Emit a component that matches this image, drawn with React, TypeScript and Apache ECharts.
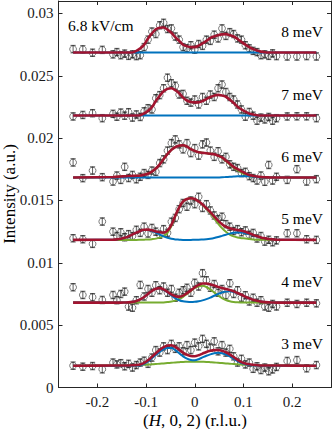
import React, { useEffect, useRef } from "react";
import * as echarts from "echarts";

// ---- data ----
const POINT_H = [-0.25, -0.23, -0.21, -0.19, -0.168, -0.16, -0.152, -0.144, -0.136, -0.128, -0.12, -0.112, -0.104, -0.096, -0.088, -0.08, -0.072, -0.064, -0.056, -0.048, -0.04, -0.032, -0.024, -0.016, -0.008, 0, 0.008, 0.016, 0.024, 0.032, 0.04, 0.048, 0.056, 0.064, 0.072, 0.08, 0.088, 0.096, 0.104, 0.112, 0.12, 0.128, 0.136, 0.144, 0.152, 0.16, 0.168, 0.19, 0.21, 0.23, 0.25];
const CURVE_H = [-0.25, -0.168, -0.16, -0.152, -0.144, -0.136, -0.128, -0.12, -0.112, -0.104, -0.096, -0.088, -0.08, -0.072, -0.064, -0.056, -0.048, -0.04, -0.032, -0.024, -0.016, -0.008, 0, 0.008, 0.016, 0.024, 0.032, 0.04, 0.048, 0.056, 0.064, 0.072, 0.08, 0.088, 0.096, 0.104, 0.112, 0.12, 0.128, 0.136, 0.144, 0.152, 0.16, 0.168, 0.25];

const LABELS = ["8 meV", "7 meV", "6 meV", "5 meV", "4 meV", "3 meV"];
const BASELINES = [0.02687, 0.02182, 0.01684, 0.01184, 0.00681, 0.00175];
const ERRORS = [0.0003, 0.0003, 0.0003, 0.0003, 0.0003, 0.0003];

const DATA_8 = [0.02714, 0.02712, 0.02685, 0.02708, 0.02672, 0.0269, 0.02665, 0.02678, 0.0266, 0.02672, 0.02658, 0.02665, 0.0273, 0.0279, 0.02855, 0.02835, 0.02905, 0.02925, 0.02875, 0.0288, 0.02815, 0.0279, 0.0273, 0.0272, 0.02745, 0.0271, 0.02755, 0.0274, 0.0279, 0.0278, 0.0283, 0.028, 0.0288, 0.0282, 0.0285, 0.02835, 0.028, 0.0279, 0.02745, 0.0272, 0.027, 0.0269, 0.02665, 0.02672, 0.0266, 0.0268, 0.02658, 0.02655, 0.02655, 0.02658, 0.02655];
const DATA_7 = [0.02174, 0.02186, 0.022, 0.0216, 0.02195, 0.02172, 0.02205, 0.0218, 0.02208, 0.02165, 0.0219, 0.0217, 0.02215, 0.0224, 0.0223, 0.0232, 0.02345, 0.024, 0.02485, 0.0244, 0.0242, 0.0235, 0.02355, 0.023, 0.02285, 0.0231, 0.0227, 0.0233, 0.023, 0.0235, 0.0233, 0.024, 0.0243, 0.0237, 0.0233, 0.0231, 0.0227, 0.0223, 0.02172, 0.0221, 0.0218, 0.0214, 0.02165, 0.0215, 0.0217, 0.0214, 0.0216, 0.02174, 0.02175, 0.02175, 0.0216];
const DATA_6 = [0.01805, 0.01679, 0.0174, 0.01687, 0.01652, 0.017, 0.01665, 0.0177, 0.0168, 0.01705, 0.0167, 0.0169, 0.0172, 0.01705, 0.0174, 0.0173, 0.018, 0.0183, 0.019, 0.0196, 0.0199, 0.0195, 0.0191, 0.0196, 0.0188, 0.0192, 0.0186, 0.0195, 0.01965, 0.019, 0.0185, 0.01895, 0.0183, 0.0185, 0.0179, 0.0177, 0.0176, 0.0172, 0.0173, 0.01695, 0.0168, 0.0166, 0.017, 0.0165, 0.01785, 0.0166, 0.0169, 0.01665, 0.01751, 0.01652, 0.01671];
const DATA_5 = [0.01197, 0.01189, 0.01152, 0.01331, 0.0125, 0.01215, 0.01245, 0.01205, 0.0123, 0.01215, 0.01265, 0.0124, 0.0129, 0.01235, 0.0128, 0.0125, 0.01225, 0.0127, 0.0124, 0.0133, 0.0136, 0.0143, 0.0148, 0.0145, 0.015, 0.0147, 0.0153, 0.0144, 0.0147, 0.0142, 0.0138, 0.0135, 0.0137, 0.0131, 0.0129, 0.01255, 0.0127, 0.01245, 0.0126, 0.01225, 0.0124, 0.01195, 0.01215, 0.0117, 0.01185, 0.01165, 0.0118, 0.01237, 0.01237, 0.01189, 0.01184];
const DATA_4 = [0.00804, 0.00742, 0.00724, 0.00702, 0.00742, 0.007, 0.0075, 0.00769, 0.00649, 0.0064, 0.007, 0.00823, 0.0073, 0.0079, 0.0076, 0.0082, 0.0078, 0.0081, 0.0076, 0.0079, 0.0072, 0.0076, 0.0078, 0.008, 0.0076, 0.0084, 0.0081, 0.00917, 0.0086, 0.008, 0.0083, 0.0076, 0.0079, 0.0074, 0.00836, 0.0075, 0.0078, 0.0072, 0.0074, 0.0069, 0.0072, 0.0068, 0.007, 0.0065, 0.0064, 0.0067, 0.0065, 0.0068, 0.0067, 0.0068, 0.00675];
const DATA_3 = [0.00175, 0.00167, 0.00172, 0.00146, 0.002, 0.00185, 0.00195, 0.0017, 0.0019, 0.0016, 0.0018, 0.002, 0.00215, 0.0019, 0.0024, 0.003, 0.0028, 0.0033, 0.003, 0.0035, 0.0031, 0.0033, 0.0029, 0.0034, 0.003, 0.0036, 0.0033, 0.0039, 0.0035, 0.0032, 0.0037, 0.0029, 0.0034, 0.0028, 0.0031, 0.0025, 0.002, 0.0023, 0.00185, 0.002, 0.0015, 0.0017, 0.0014, 0.0016, 0.0013, 0.00145, 0.00165, 0.00213, 0.0022, 0.00154, 0.0018];

const FIT_8 = [0.02687, 0.02687, 0.02687, 0.02687, 0.02687, 0.02687, 0.02687, 0.027, 0.0272, 0.0275, 0.028, 0.0284, 0.02873, 0.02886, 0.02888, 0.0287, 0.02845, 0.0281, 0.0278, 0.02749, 0.02737, 0.0273, 0.0273, 0.02742, 0.0276, 0.0278, 0.02803, 0.02816, 0.02826, 0.02832, 0.02834, 0.02826, 0.02815, 0.02795, 0.02772, 0.0275, 0.0273, 0.02714, 0.02703, 0.02694, 0.02689, 0.02687, 0.02687, 0.02687, 0.02687];
const FIT_7 = [0.02182, 0.02182, 0.02182, 0.02182, 0.02182, 0.02182, 0.02182, 0.02182, 0.02184, 0.02198, 0.0222, 0.02248, 0.02298, 0.0234, 0.02376, 0.02395, 0.024, 0.02385, 0.0236, 0.02325, 0.02302, 0.0229, 0.02287, 0.02287, 0.02298, 0.02313, 0.0233, 0.02341, 0.02347, 0.02342, 0.02332, 0.02308, 0.02282, 0.02252, 0.0223, 0.02212, 0.02198, 0.0219, 0.02184, 0.02182, 0.02182, 0.02182, 0.02182, 0.02182, 0.02182];
const FIT_6 = [0.01684, 0.01688, 0.0169, 0.01692, 0.01694, 0.01696, 0.01697, 0.01698, 0.017, 0.01707, 0.01715, 0.01732, 0.01756, 0.0179, 0.01832, 0.01873, 0.01906, 0.01928, 0.0194, 0.01943, 0.01932, 0.01912, 0.01898, 0.01887, 0.01882, 0.01879, 0.01875, 0.0187, 0.01859, 0.01845, 0.01821, 0.01795, 0.0177, 0.01751, 0.01734, 0.01717, 0.01704, 0.01697, 0.01692, 0.01688, 0.01686, 0.01685, 0.01684, 0.01684, 0.01684];
const FIT_5 = [0.01184, 0.01186, 0.01188, 0.01193, 0.01201, 0.01212, 0.01227, 0.01242, 0.01256, 0.01265, 0.01266, 0.01261, 0.01252, 0.01245, 0.01243, 0.01258, 0.01304, 0.01378, 0.01445, 0.01492, 0.01512, 0.01518, 0.01512, 0.01493, 0.01468, 0.01438, 0.01407, 0.01372, 0.01338, 0.0131, 0.0129, 0.01277, 0.01269, 0.01263, 0.01257, 0.01249, 0.01237, 0.01224, 0.01213, 0.01204, 0.01197, 0.01191, 0.01188, 0.01186, 0.01184];
const FIT_4 = [0.00681, 0.00681, 0.00681, 0.00681, 0.00682, 0.00683, 0.00687, 0.00694, 0.00707, 0.00726, 0.00751, 0.00775, 0.00792, 0.00797, 0.00787, 0.00767, 0.00746, 0.00732, 0.00728, 0.00737, 0.00757, 0.00779, 0.00804, 0.00823, 0.00834, 0.00834, 0.00827, 0.00818, 0.00807, 0.00798, 0.0079, 0.00782, 0.00771, 0.00758, 0.00744, 0.00728, 0.00715, 0.00703, 0.00695, 0.00689, 0.00685, 0.00683, 0.00682, 0.00681, 0.00681];
const FIT_3 = [0.00175, 0.00176, 0.00176, 0.00176, 0.00177, 0.00177, 0.00178, 0.0018, 0.00184, 0.00197, 0.00218, 0.00246, 0.00274, 0.00301, 0.00323, 0.00337, 0.00339, 0.00326, 0.00303, 0.0028, 0.00263, 0.00253, 0.00251, 0.00259, 0.00272, 0.00285, 0.00294, 0.003, 0.00301, 0.00295, 0.00283, 0.00266, 0.00244, 0.00222, 0.00204, 0.00193, 0.00186, 0.00182, 0.00179, 0.00177, 0.00177, 0.00176, 0.00176, 0.00176, 0.00175];

const BLUE_6 = [0.01684, 0.01684, 0.01684, 0.01684, 0.01684, 0.01684, 0.01684, 0.01684, 0.01684, 0.01684, 0.01684, 0.01684, 0.01684, 0.01684, 0.01684, 0.01684, 0.01684, 0.01684, 0.01684, 0.01684, 0.01684, 0.01684, 0.01684, 0.01684, 0.01684, 0.01684, 0.01684, 0.01684, 0.01685, 0.01686, 0.01688, 0.0169, 0.01692, 0.01694, 0.01695, 0.01695, 0.01694, 0.01691, 0.01688, 0.01686, 0.01685, 0.01684, 0.01684, 0.01684, 0.01684];
const BLUE_5 = [0.01184, 0.01186, 0.01188, 0.01193, 0.01201, 0.01212, 0.01227, 0.01242, 0.01255, 0.01263, 0.01263, 0.01255, 0.01242, 0.01227, 0.01212, 0.01201, 0.01193, 0.01188, 0.01186, 0.01184, 0.01184, 0.01184, 0.01185, 0.01185, 0.01187, 0.01189, 0.01193, 0.01199, 0.01207, 0.01216, 0.01225, 0.01234, 0.01241, 0.01244, 0.01243, 0.01238, 0.0123, 0.0122, 0.01211, 0.01202, 0.01196, 0.01191, 0.01188, 0.01186, 0.01184];
const BLUE_4 = [0.00681, 0.00681, 0.00681, 0.00681, 0.00682, 0.00683, 0.00687, 0.00694, 0.00707, 0.00726, 0.00751, 0.00775, 0.00792, 0.00796, 0.00785, 0.00763, 0.00738, 0.00716, 0.007, 0.00691, 0.00687, 0.00685, 0.00687, 0.00692, 0.00699, 0.00709, 0.00721, 0.00736, 0.0075, 0.00762, 0.00769, 0.00771, 0.00766, 0.00756, 0.00743, 0.00728, 0.00715, 0.00703, 0.00695, 0.00689, 0.00685, 0.00683, 0.00682, 0.00681, 0.00681];
const BLUE_3 = [0.00175, 0.00175, 0.00175, 0.00175, 0.00175, 0.00175, 0.00175, 0.00176, 0.00178, 0.0019, 0.00209, 0.00235, 0.00261, 0.00285, 0.00305, 0.00316, 0.00316, 0.003, 0.00275, 0.0025, 0.00232, 0.00221, 0.00219, 0.00227, 0.00241, 0.00255, 0.00266, 0.00274, 0.00278, 0.00274, 0.00265, 0.0025, 0.00231, 0.00211, 0.00195, 0.00186, 0.0018, 0.00178, 0.00176, 0.00175, 0.00175, 0.00175, 0.00175, 0.00175, 0.00175];

const GREEN_6 = [0.01684, 0.01688, 0.0169, 0.01692, 0.01694, 0.01696, 0.01697, 0.01698, 0.017, 0.01707, 0.01715, 0.01732, 0.01756, 0.0179, 0.01832, 0.01873, 0.01906, 0.01928, 0.0194, 0.01943, 0.01932, 0.01912, 0.01898, 0.01887, 0.01882, 0.01879, 0.01875, 0.0187, 0.01858, 0.01843, 0.01817, 0.01789, 0.01762, 0.01741, 0.01723, 0.01706, 0.01694, 0.0169, 0.01688, 0.01686, 0.01685, 0.01685, 0.01684, 0.01684, 0.01684];
const GREEN_5 = [0.01184, 0.01184, 0.01184, 0.01184, 0.01184, 0.01184, 0.01184, 0.01184, 0.01185, 0.01186, 0.01187, 0.0119, 0.01194, 0.01202, 0.01215, 0.01241, 0.01295, 0.01374, 0.01443, 0.01492, 0.01512, 0.01518, 0.01511, 0.01492, 0.01465, 0.01433, 0.01398, 0.01357, 0.01315, 0.01278, 0.01249, 0.01227, 0.01212, 0.01203, 0.01198, 0.01195, 0.01191, 0.01188, 0.01186, 0.01186, 0.01185, 0.01184, 0.01184, 0.01184, 0.01184];
const GREEN_4 = [0.00681, 0.00681, 0.00681, 0.00681, 0.00681, 0.00681, 0.00681, 0.00681, 0.00681, 0.00681, 0.00681, 0.00681, 0.00681, 0.00681, 0.00682, 0.00685, 0.00689, 0.00697, 0.00709, 0.00727, 0.00751, 0.00775, 0.00798, 0.00812, 0.00816, 0.00806, 0.00787, 0.00763, 0.00738, 0.00717, 0.00702, 0.00692, 0.00686, 0.00683, 0.00682, 0.00681, 0.00681, 0.00681, 0.00681, 0.00681, 0.00681, 0.00681, 0.00681, 0.00681, 0.00681];
const GREEN_3 = [0.00175, 0.00176, 0.00176, 0.00176, 0.00177, 0.00177, 0.00178, 0.00179, 0.00181, 0.00182, 0.00184, 0.00186, 0.00188, 0.00191, 0.00193, 0.00196, 0.00198, 0.00201, 0.00203, 0.00205, 0.00206, 0.00207, 0.00207, 0.00207, 0.00206, 0.00205, 0.00203, 0.00201, 0.00198, 0.00196, 0.00193, 0.00191, 0.00188, 0.00186, 0.00184, 0.00182, 0.00181, 0.00179, 0.00178, 0.00177, 0.00177, 0.00176, 0.00176, 0.00176, 0.00175];

const DATA = [DATA_8, DATA_7, DATA_6, DATA_5, DATA_4, DATA_3];
const FITS = [FIT_8, FIT_7, FIT_6, FIT_5, FIT_4, FIT_3];
const BLUES: (number[] | null)[] = [null, null, BLUE_6, BLUE_5, BLUE_4, BLUE_3];
const GREENS: (number[] | null)[] = [null, null, GREEN_6, GREEN_5, GREEN_4, GREEN_3];

const X_TICKS = [-0.2, -0.1, 0, 0.1, 0.2];
const Y_TICKS = [0, 0.005, 0.01, 0.015, 0.02, 0.025, 0.03];

// ---- styling ----
const FONT = "Liberation Serif";
const RED = "#A2142F";
const BLUE = "#0072BD";
const GREEN = "#77AC30";
const AXIS = "#262626";
const LABEL_Y = [31.7, 94.3, 156, 218.5, 281, 343.5];

function pairs(hs: number[], vs: number[]) {
  return hs.map((h, i) => [h, vs[i]]);
}

export default function App() {
  const ref = useRef<HTMLDivElement>(null);
  useEffect(() => {
    if (!ref.current) return;
    const chart = echarts.init(ref.current, null, { renderer: "svg" });
    const series: any[] = [];
    DATA.forEach((d, k) => {
      series.push({
        type: "custom",
        xAxisIndex: 0,
        yAxisIndex: 0,
        z: 1,
        silent: true,
        data: POINT_H.map((h, i) => [h, d[i], ERRORS[k]]),
        encode: { x: 0, y: 1 },
        renderItem: (params: any, api: any) => {
          const x = api.value(0);
          const y = api.value(1);
          const e = api.value(2);
          const p1 = api.coord([x, y + e]);
          const p2 = api.coord([x, y - e]);
          const cap = 2.6;
          const style = { stroke: "#1a1a1a", lineWidth: 0.7 };
          return {
            type: "group",
            children: [
              { type: "line", shape: { x1: p1[0], y1: p1[1], x2: p2[0], y2: p2[1] }, style },
              { type: "line", shape: { x1: p1[0] - cap, y1: p1[1], x2: p1[0] + cap, y2: p1[1] }, style },
              { type: "line", shape: { x1: p2[0] - cap, y1: p2[1], x2: p2[0] + cap, y2: p2[1] }, style },
            ],
          };
        },
      });
      series.push({
        type: "scatter",
        z: 2,
        silent: true,
        symbol: "circle",
        symbolSize: 6.8,
        itemStyle: { color: "rgba(0,0,0,0)", borderColor: "#1a1a1a", borderWidth: 0.7 },
        data: pairs(POINT_H, d),
      });
      const g = GREENS[k];
      if (g) {
        series.push({
          type: "line", z: 3, silent: true, showSymbol: false, smooth: 0.3,
          lineStyle: { color: GREEN, width: 2 },
          data: pairs(CURVE_H, g),
        });
      }
      const b = BLUES[k];
      series.push({
        type: "line", z: 4, silent: true, showSymbol: false, smooth: 0.3,
        lineStyle: { color: BLUE, width: 2 },
        data: b ? pairs(CURVE_H, b) : [[CURVE_H[0], BASELINES[k]], [CURVE_H[CURVE_H.length - 1], BASELINES[k]]],
      });
      series.push({
        type: "line", z: 5, silent: true, showSymbol: false, smooth: 0.3,
        lineStyle: { color: RED, width: 2.6 },
        data: pairs(CURVE_H, FITS[k]),
      });
    });

    const axisCommon = {
      type: "value",
      splitLine: { show: false },
      axisLine: { show: true, onZero: false, lineStyle: { color: AXIS, width: 1 } },
    };

    const graphic: any[] = LABELS.map((t, k) => ({
      type: "text",
      x: 323,
      y: LABEL_Y[k],
      style: { text: t, font: `15.5px "${FONT}"`, fill: "#000", textAlign: "right", textVerticalAlign: "middle", align: "right", verticalAlign: "middle" },
    }));
    graphic.push({
      type: "text", x: 68, y: 25,
      style: { text: "6.8 kV/cm", font: `15.5px "${FONT}"`, fill: "#000", textAlign: "left", textVerticalAlign: "middle", align: "left", verticalAlign: "middle" },
    });
    graphic.push({
      type: "text", x: 9, y: 194, rotation: Math.PI / 2,
      style: { text: "Intensity (a.u.)", font: `17px "${FONT}"`, fill: "#000", textAlign: "center", textVerticalAlign: "middle", align: "center", verticalAlign: "middle" },
    });
    graphic.push({
      type: "text", x: 195, y: 420,
      style: {
        text: "{a|(}{b|H}{a|, 0, 2) (r.l.u.)}",
        font: `17px "${FONT}"`,
        fill: "#000",
        textAlign: "center", textVerticalAlign: "middle", align: "center", verticalAlign: "middle",
        rich: {
          a: { fontFamily: FONT, fontSize: 17, fill: "#000", color: "#000" },
          b: { fontFamily: FONT, fontSize: 17, fontStyle: "italic", fill: "#000", color: "#000" },
        },
      },
    });

    chart.setOption({
      animation: false,
      backgroundColor: "#fff",
      grid: { left: 58.5, right: 1, top: 1, bottom: 41.5, containLabel: false },
      xAxis: [
        {
          ...axisCommon, position: "bottom", min: -0.28, max: 0.28,
          axisTick: { show: true, inside: true, length: 4, customValues: X_TICKS, lineStyle: { color: AXIS } },
          axisLabel: {
            show: true, customValues: X_TICKS, margin: 7, fontFamily: FONT, fontSize: 15, color: "#1a1a1a",
            formatter: (v: number) => (Math.abs(v) < 1e-9 ? "0" : v.toFixed(1)),
          },
        },
        {
          ...axisCommon, position: "top", min: -0.28, max: 0.28,
          axisTick: { show: true, inside: true, length: 4, customValues: X_TICKS, lineStyle: { color: AXIS } },
          axisLabel: { show: false },
        },
      ],
      yAxis: [
        {
          ...axisCommon, position: "left", min: 0, max: 0.031,
          axisTick: { show: true, inside: true, length: 4, customValues: Y_TICKS, lineStyle: { color: AXIS } },
          axisLabel: {
            show: true, customValues: Y_TICKS, margin: 5, fontFamily: FONT, fontSize: 15, color: "#1a1a1a",
            formatter: (v: number) => String(+v.toFixed(3)),
          },
        },
        {
          ...axisCommon, position: "right", min: 0, max: 0.031,
          axisTick: { show: true, inside: true, length: 4, customValues: Y_TICKS, lineStyle: { color: AXIS } },
          axisLabel: { show: false },
        },
      ],
      series,
      graphic,
    });
    return () => chart.dispose();
  }, []);
  return (
    <div
      ref={ref}
      style={{ position: "fixed", left: 0, top: 0, width: 332, height: 429, background: "#fff" }}
    />
  );
}
